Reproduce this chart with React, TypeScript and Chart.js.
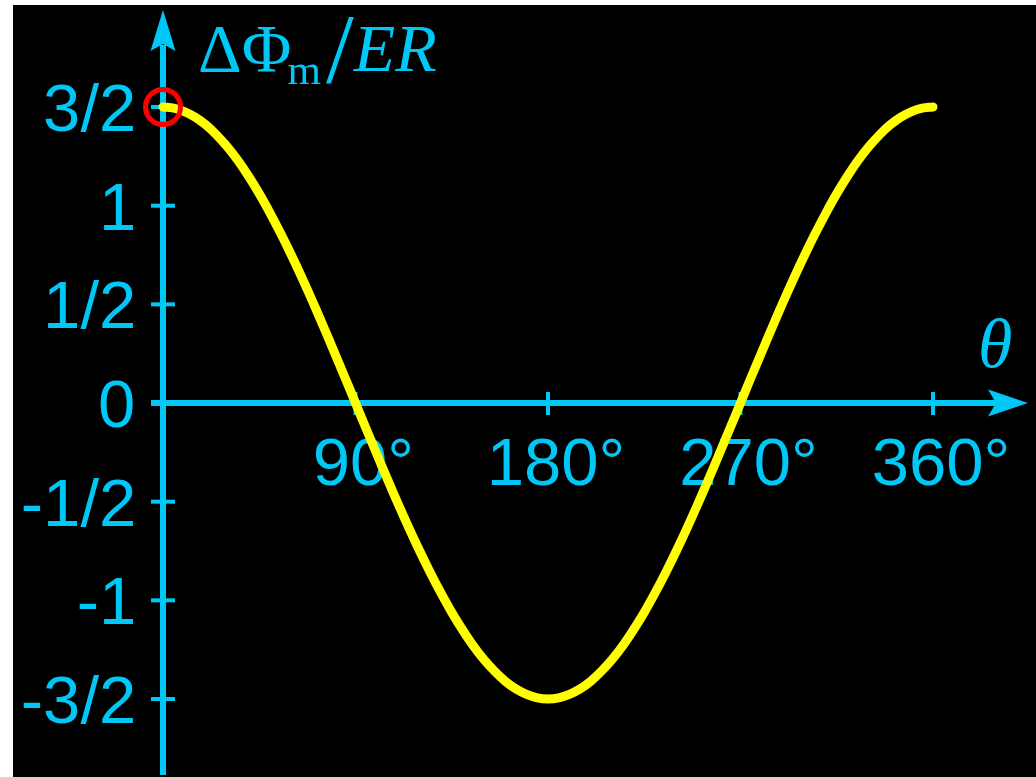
import React, { useEffect, useRef } from "react";
import { Chart, registerables } from "chart.js";

Chart.register(...registerables);

// ---- data ----
const thetaDeg = [
  0, 5, 10, 15, 20, 25, 30, 35, 40, 45, 50, 55, 60, 65, 70, 75, 80, 85, 90,
  95, 100, 105, 110, 115, 120, 125, 130, 135, 140, 145, 150, 155, 160, 165, 170, 175, 180,
  185, 190, 195, 200, 205, 210, 215, 220, 225, 230, 235, 240, 245, 250, 255, 260, 265, 270,
  275, 280, 285, 290, 295, 300, 305, 310, 315, 320, 325, 330, 335, 340, 345, 350, 355, 360,
];
const fluxValues = [
  1.5, 1.494, 1.477, 1.449, 1.41, 1.359, 1.299, 1.229, 1.149, 1.061, 0.964, 0.86, 0.75, 0.634, 0.513, 0.388, 0.26, 0.131, 0.0,
  -0.131, -0.26, -0.388, -0.513, -0.634, -0.75, -0.86, -0.964, -1.061, -1.149, -1.229, -1.299, -1.359, -1.41, -1.449, -1.477, -1.494, -1.5,
  -1.494, -1.477, -1.449, -1.41, -1.359, -1.299, -1.229, -1.149, -1.061, -0.964, -0.86, -0.75, -0.634, -0.513, -0.388, -0.26, -0.131, 0.0,
  0.131, 0.26, 0.388, 0.513, 0.634, 0.75, 0.86, 0.964, 1.061, 1.149, 1.229, 1.299, 1.359, 1.41, 1.449, 1.477, 1.494, 1.5,
];
const markedPoint = [{ x: 0, y: 1.5 }];

const xTickValues = [90, 180, 270, 360];
const xTickLabels = ["90°", "180°", "270°", "360°"];
const yTickValues = [1.5, 1, 0.5, 0, -0.5, -1, -1.5];
const yTickLabels = ["3/2", "1", "1/2", "0", "-1/2", "-1", "-3/2"];

const yAxisTitle = { delta: "ΔΦ", sub: "m", slash: "/", rest: "ER" };
const xAxisTitle = "θ";

const CYAN = "#00C8F6";
const YELLOW = "#FFFF00";
const RED = "#FF0000";

const SERIF = "'Liberation Serif', 'Times New Roman', serif";
const SANS = "'Liberation Sans', Arial, sans-serif";

const axesPlugin = {
  id: "crossAxes",
  beforeDatasetsDraw(chart: any) {
    const { ctx } = chart;
    const xs = chart.scales.x;
    const ys = chart.scales.y;
    const x0 = xs.getPixelForValue(0);
    const y0 = ys.getPixelForValue(0);
    const W = chart.width;
    const H = chart.height;
    ctx.save();
    ctx.strokeStyle = CYAN;
    ctx.fillStyle = CYAN;
    ctx.lineCap = "butt";

    // y axis line
    ctx.lineWidth = 6;
    ctx.beginPath();
    ctx.moveTo(x0, H - 2);
    ctx.lineTo(x0, 40);
    ctx.stroke();
    // y arrow head
    ctx.beginPath();
    ctx.moveTo(x0, 5);
    ctx.lineTo(x0 + 12.5, 46);
    ctx.lineTo(x0, 39);
    ctx.lineTo(x0 - 12.5, 46);
    ctx.closePath();
    ctx.fill();

    // x axis line
    ctx.beginPath();
    ctx.moveTo(x0 - 12, y0);
    ctx.lineTo(W - 40, y0);
    ctx.stroke();
    // x arrow head
    ctx.beginPath();
    ctx.moveTo(W - 8, y0);
    ctx.lineTo(W - 48, y0 - 13.5);
    ctx.lineTo(W - 40, y0);
    ctx.lineTo(W - 48, y0 + 13.5);
    ctx.closePath();
    ctx.fill();

    // y ticks
    ctx.lineWidth = 4;
    yTickValues.forEach((v) => {
      const py = ys.getPixelForValue(v);
      ctx.beginPath();
      ctx.moveTo(x0 - 12, py);
      ctx.lineTo(x0 + 12, py);
      ctx.stroke();
    });
    // x ticks
    xTickValues.forEach((v) => {
      const px = xs.getPixelForValue(v);
      ctx.beginPath();
      ctx.moveTo(px, y0 - 11);
      ctx.lineTo(px, y0 + 12);
      ctx.stroke();
    });

    // y tick labels (right edges of ink aligned)
    ctx.font = "67px " + SANS;
    ctx.textBaseline = "alphabetic";
    ctx.textAlign = "left";
    const labelRight = x0 - 30;
    yTickValues.forEach((v, i) => {
      const py = ys.getPixelForValue(v);
      const m = ctx.measureText(yTickLabels[i]);
      ctx.fillText(yTickLabels[i], labelRight - m.actualBoundingBoxRight, py + 24);
    });

    // x tick labels
    ctx.textAlign = "center";
    xTickValues.forEach((v, i) => {
      const px = xs.getPixelForValue(v);
      ctx.fillText(xTickLabels[i], px + 8, y0 + 82);
    });

    // y axis title: ΔΦ_m / ER
    ctx.textAlign = "left";
    let tx = x0 + 35;
    const base = 66;
    ctx.font = "68px " + SERIF;
    ctx.fillText(yAxisTitle.delta, tx, base);
    tx += ctx.measureText(yAxisTitle.delta).width;
    ctx.font = "43px " + SERIF;
    ctx.fillText(yAxisTitle.sub, tx - 4, base + 13);
    tx += ctx.measureText(yAxisTitle.sub).width - 4;
    ctx.font = "100px " + SERIF;
    ctx.fillText(yAxisTitle.slash, tx + 5, base + 11);
    tx += ctx.measureText(yAxisTitle.slash).width + 5;
    ctx.font = "italic 68px " + SERIF;
    ctx.fillText(yAxisTitle.rest, tx, base);

    // x axis title θ
    ctx.font = "italic 70px " + SERIF;
    ctx.fillText(xAxisTitle, W - 58, y0 - 36);

    ctx.restore();
  },
};

export default function App() {
  const canvasRef = useRef<HTMLCanvasElement | null>(null);

  useEffect(() => {
    const canvas = canvasRef.current;
    if (!canvas) return;
    const chart = new Chart(canvas, {
      type: "line",
      data: {
        datasets: [
          {
            label: "start",
            data: markedPoint,
            showLine: false,
            pointRadius: 17.5,
            pointHoverRadius: 17.5,
            pointBorderWidth: 5,
            pointBorderColor: RED,
            pointBackgroundColor: "rgba(0,0,0,0)",
            clip: false,
            order: 0,
          } as any,
          {
            label: "flux",
            data: thetaDeg.map((t, i) => ({ x: t, y: fluxValues[i] })),
            borderColor: YELLOW,
            borderWidth: 9,
            borderCapStyle: "round",
            borderJoinStyle: "round",
            pointRadius: 0,
            tension: 0.4,
            fill: false,
            clip: false,
            order: 1,
          } as any,
        ],
      },
      options: {
        responsive: false,
        animation: false,
        events: [],
        layout: { padding: { left: 150, right: 103, top: 102, bottom: 78 } },
        plugins: { legend: { display: false }, tooltip: { enabled: false }, title: { display: false } },
        scales: {
          x: { type: "linear", min: 0, max: 360, display: false },
          y: { type: "linear", min: -1.5, max: 1.5, display: false },
        },
      },
      plugins: [axesPlugin],
    });
    return () => chart.destroy();
  }, []);

  return (
    <div style={{ position: "absolute", left: 0, top: 0, width: 1036, height: 777, background: "#fff", overflow: "hidden" }}>
      <canvas
        ref={canvasRef}
        width={1023}
        height={772}
        style={{ position: "absolute", left: 13, top: 5, width: 1023, height: 772, background: "#000" }}
      />
    </div>
  );
}
